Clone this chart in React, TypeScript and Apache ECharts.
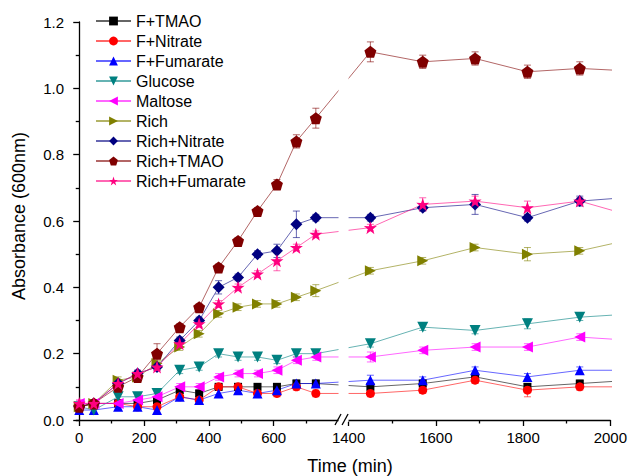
import React, { useEffect, useRef } from "react";
import * as echarts from "echarts";

// ---------- data ----------
const seriesNames = [
  "F+TMAO",
  "F+Nitrate",
  "F+Fumarate",
  "Glucose",
  "Maltose",
  "Rich",
  "Rich+Nitrate",
  "Rich+TMAO",
  "Rich+Fumarate",
];

// sampling times (min); the last point lies just past the axis end
const times = [0, 45, 120, 180, 240, 310, 370, 430, 490, 550, 610, 670, 730, 1450, 1570, 1690, 1810, 1930, 2050];

const fTMAO = [0.04, 0.05, 0.05, 0.05, 0.06, 0.09, 0.08, 0.1, 0.1, 0.1, 0.1, 0.11, 0.11, 0.1, 0.11, 0.13, 0.1, 0.11, 0.12];
const fNitrate = [0.04, 0.05, 0.05, 0.04, 0.04, 0.07, 0.06, 0.1, 0.1, 0.08, 0.08, 0.1, 0.08, 0.08, 0.09, 0.12, 0.09, 0.1, 0.1];
const fFumarate = [0.03, 0.03, 0.04, 0.04, 0.03, 0.07, 0.06, 0.08, 0.09, 0.08, 0.09, 0.11, 0.11, 0.12, 0.12, 0.15, 0.13, 0.15, 0.15];
const glucose = [0.04, 0.03, 0.07, 0.07, 0.08, 0.15, 0.16, 0.2, 0.19, 0.19, 0.18, 0.2, 0.2, 0.23, 0.28, 0.27, 0.29, 0.31, 0.32];
const maltose = [0.05, 0.05, 0.05, 0.06, 0.07, 0.1, 0.1, 0.13, 0.14, 0.14, 0.15, 0.18, 0.19, 0.19, 0.21, 0.22, 0.22, 0.25, 0.24];
const rich = [0.04, 0.05, 0.12, 0.13, 0.17, 0.22, 0.26, 0.32, 0.34, 0.35, 0.35, 0.37, 0.39, 0.45, 0.48, 0.52, 0.5, 0.51, 0.545];
const richNitrate = [0.04, 0.05, 0.11, 0.14, 0.16, 0.24, 0.3, 0.4, 0.43, 0.5, 0.51, 0.59, 0.61, 0.61, 0.64, 0.65, 0.61, 0.66, 0.672];
const richTMAO = [0.04, 0.05, 0.1, 0.13, 0.2, 0.28, 0.34, 0.46, 0.54, 0.63, 0.71, 0.84, 0.91, 1.11, 1.08, 1.09, 1.05, 1.06, 1.052];
const richFumarate = [0.05, 0.05, 0.11, 0.14, 0.16, 0.23, 0.29, 0.35, 0.4, 0.44, 0.48, 0.52, 0.56, 0.58, 0.65, 0.66, 0.64, 0.66, 0.615];

// error bar half-widths (for the 18 measured points)
const errFTMAO = [0.01, 0.01, 0.01, 0.01, 0.01, 0.01, 0.01, 0.01, 0.01, 0.01, 0.01, 0.01, 0.01, 0.01, 0.01, 0.01, 0.01, 0.01];
const errFNitrate = [0.01, 0.01, 0.01, 0.01, 0.01, 0.01, 0.01, 0.01, 0.01, 0.01, 0.01, 0.01, 0.01, 0.01, 0.01, 0.01, 0.02, 0.01];
const errFFumarate = [0.01, 0.01, 0.01, 0.01, 0.01, 0.01, 0.01, 0.01, 0.01, 0.01, 0.01, 0.01, 0.01, 0.015, 0.01, 0.01, 0.01, 0.01];
const errGlucose = [0.01, 0.01, 0.01, 0.01, 0.01, 0.01, 0.01, 0.01, 0.01, 0.01, 0.01, 0.01, 0.01, 0.01, 0.01, 0.01, 0.015, 0.01];
const errMaltose = [0.01, 0.01, 0.01, 0.01, 0.01, 0.01, 0.01, 0.01, 0.01, 0.01, 0.01, 0.01, 0.01, 0.015, 0.01, 0.01, 0.01, 0.01];
const errRich = [0.01, 0.01, 0.01, 0.01, 0.01, 0.01, 0.01, 0.01, 0.01, 0.01, 0.01, 0.01, 0.018, 0.01, 0.01, 0.01, 0.02, 0.01];
const errRichNitrate = [0.01, 0.01, 0.01, 0.01, 0.01, 0.01, 0.01, 0.02, 0.01, 0.01, 0.02, 0.04, 0.01, 0.01, 0.01, 0.03, 0.01, 0.015];
const errRichTMAO = [0.01, 0.01, 0.01, 0.01, 0.03, 0.01, 0.01, 0.01, 0.01, 0.01, 0.015, 0.02, 0.03, 0.03, 0.02, 0.02, 0.02, 0.02];
const errRichFumarate = [0.01, 0.01, 0.01, 0.01, 0.01, 0.01, 0.01, 0.01, 0.01, 0.01, 0.03, 0.01, 0.01, 0.01, 0.02, 0.015, 0.02, 0.01];

const seriesValues = [fTMAO, fNitrate, fFumarate, glucose, maltose, rich, richNitrate, richTMAO, richFumarate];
const seriesErrors = [errFTMAO, errFNitrate, errFFumarate, errGlucose, errMaltose, errRich, errRichNitrate, errRichTMAO, errRichFumarate];

// broken time axis: [0, 800] then [1400, 2000] drawn at a larger scale
const segment1 = [-10, 800];
const segment2 = [1400, 2000];
const tickLabels = [0, 200, 400, 600, 1400, 1600, 1800, 2000];
const minorTicks = [100, 300, 500, 700, 1500, 1700, 1900];

// ---------- axis transform ----------
const BREAK_GAP = 31; // axis units between end of segment 1 and start of segment 2
const SCALE2 = 1.346; // segment 2 is stretched relative to segment 1
const toAxis = (t: number) =>
  t <= segment1[1] ? t : segment1[1] + BREAK_GAP + (t - segment2[0]) * SCALE2;
const fromAxis = (v: number) =>
  v <= segment1[1] + 0.001 ? v : (v - segment1[1] - BREAK_GAP) / SCALE2 + segment2[0];

// ---------- styles ----------
const colors = ["#000000", "#ff0000", "#0000ff", "#008080", "#ff00ff", "#808000", "#000080", "#800000", "#ff0080"];
const PENTAGON = "path://M50,0 L97.6,34.5 L79.4,90.5 L20.6,90.5 L2.4,34.5 Z";
const STAR =
  "path://M50,0 L61.8,35.1 L97.6,34.5 L68.8,56 L79.4,90.5 L50,69.5 L20.6,90.5 L31.2,56 L2.4,34.5 L38.2,35.1 Z";
const symbols = ["rect", "circle", "triangle", "triangle", "triangle", "triangle", "diamond", PENTAGON, STAR];
const rotations = [0, 0, 0, 180, 90, -90, 0, 0, 0];
const sizes = [8, 9, 10, 11, 11, 11, 12, 12, 13];

const FONT = "Liberation Sans, Arial, sans-serif";

export default function App() {
  const ref = useRef<HTMLDivElement>(null);

  useEffect(() => {
    if (!ref.current) return;
    const chart = echarts.init(ref.current, null, { renderer: "svg" });

    const errData: number[][] = [];
    seriesValues.forEach((vals, si) => {
      seriesErrors[si].forEach((e, j) => {
        errData.push([toAxis(times[j]), vals[j] - e, vals[j] + e, si]);
      });
    });

    const renderErr = (params: any, api: any) => {
      const x = api.value(0);
      const lo = api.coord([x, api.value(1)]);
      const hi = api.coord([x, api.value(2)]);
      const c = colors[api.value(3)];
      const w = 3.5;
      const st = { stroke: c, lineWidth: 1, opacity: 0.6 };
      return {
        type: "group",
        children: [
          { type: "line", shape: { x1: lo[0], y1: lo[1], x2: hi[0], y2: hi[1] }, style: st },
          { type: "line", shape: { x1: lo[0] - w, y1: lo[1], x2: lo[0] + w, y2: lo[1] }, style: st },
          { type: "line", shape: { x1: hi[0] - w, y1: hi[1], x2: hi[0] + w, y2: hi[1] }, style: st },
        ],
      };
    };

    const lineSeries = seriesNames.map((name, si) => ({
      type: "line",
      name,
      xAxisIndex: 0,
      yAxisIndex: 0,
      data: times.map((t, j) => [toAxis(t), seriesValues[si][j]]),
      symbol: symbols[si],
      symbolSize: sizes[si],
      symbolRotate: rotations[si],
      itemStyle: { color: colors[si] },
      lineStyle: { color: colors[si], width: 1, opacity: 0.6 },
      clip: true,
      z: 3,
    }));

    const axisLineStyle = { color: "#000", width: 1.3 };
    const labelStyle = { color: "#000", fontSize: 15, fontFamily: FONT };
    const xMin = toAxis(segment1[0]);
    const xMax = toAxis(segment2[1]);
    const majorV = tickLabels.map(toAxis);
    const minorV = minorTicks.map(toAxis);

    const option: any = {
      animation: false,
      backgroundColor: "#fff",
      grid: { left: 76, top: 22, right: 18, bottom: 56 },
      xAxis: [
        {
          type: "value",
          min: xMin,
          max: xMax,
          axisLine: { show: true, onZero: false, lineStyle: axisLineStyle },
          axisTick: { show: true, length: 6, customValues: majorV, lineStyle: axisLineStyle },
          axisLabel: {
            customValues: majorV,
            margin: 10,
            formatter: (v: number) => String(Math.round(fromAxis(v))),
            ...labelStyle,
          },
          splitLine: { show: false },
        },
        {
          type: "value",
          position: "bottom",
          min: xMin,
          max: xMax,
          axisLine: { show: false, onZero: false },
          axisTick: { show: true, length: 3.5, customValues: minorV, lineStyle: axisLineStyle },
          axisLabel: { show: false },
          splitLine: { show: false },
        },
      ],
      yAxis: {
        type: "value",
        min: 0,
        max: 1.2,
        interval: 0.2,
        axisLine: { show: true, lineStyle: axisLineStyle },
        axisTick: { show: true, length: 6, lineStyle: axisLineStyle },
        minorTick: { show: true, splitNumber: 2, length: 3.5, lineStyle: axisLineStyle },
        axisLabel: { margin: 12, formatter: (v: number) => v.toFixed(1), ...labelStyle },
        splitLine: { show: false },
        minorSplitLine: { show: false },
      },
      legend: {
        data: seriesNames,
        orient: "vertical",
        left: 95,
        top: 13,
        padding: 0,
        itemGap: 4,
        itemWidth: 35,
        itemHeight: 11,
        textStyle: { color: "#000", fontSize: 16, fontFamily: FONT },
      },
      series: [
        {
          type: "custom",
          name: "errorBars",
          data: errData,
          encode: { x: 0, y: [1, 2] },
          renderItem: renderErr,
          clip: true,
          silent: true,
          z: 2,
        },
        ...lineSeries,
      ],
    };

    chart.setOption(option);

    // break: blank band between the segments plus the "//" marks on the axis
    const x0 = chart.convertToPixel({ xAxisIndex: 0 }, toAxis(segment1[1])) as number;
    const x1 = chart.convertToPixel({ xAxisIndex: 0 }, toAxis(segment2[0])) as number;
    const yTop = chart.convertToPixel({ yAxisIndex: 0 }, 1.2) as number;
    const yBot = chart.convertToPixel({ yAxisIndex: 0 }, 0) as number;
    chart.setOption({
      graphic: [
        {
          type: "rect",
          shape: { x: x0, y: yTop - 2, width: x1 - x0, height: yBot - yTop + 4 },
          style: { fill: "#fff" },
          z: 10,
        },
        {
          type: "line",
          shape: { x1: x0 - 3.5, y1: yBot + 5, x2: x0 + 2.5, y2: yBot - 6 },
          style: { stroke: "#000", lineWidth: 1.3 },
          z: 11,
        },
        {
          type: "line",
          shape: { x1: x1 - 6.5, y1: yBot + 5, x2: x1 - 0.5, y2: yBot - 6 },
          style: { stroke: "#000", lineWidth: 1.3 },
          z: 11,
        },
        {
          type: "text",
          x: 350,
          y: 466,
          style: {
            text: "Time (min)",
            fill: "#000",
            fontSize: 18,
            fontFamily: FONT,
            align: "center",
            verticalAlign: "middle",
            textAlign: "center",
            textVerticalAlign: "middle",
          },
        },
        {
          type: "text",
          x: 19,
          y: 216,
          rotation: Math.PI / 2,
          style: {
            text: "Absorbance (600nm)",
            fill: "#000",
            fontSize: 18,
            fontFamily: FONT,
            align: "center",
            verticalAlign: "middle",
            textAlign: "center",
            textVerticalAlign: "middle",
          },
        },
      ],
    });

    return () => chart.dispose();
  }, []);

  return <div ref={ref} style={{ width: 630, height: 476, position: "absolute", left: 0, top: 0 }} />;
}
